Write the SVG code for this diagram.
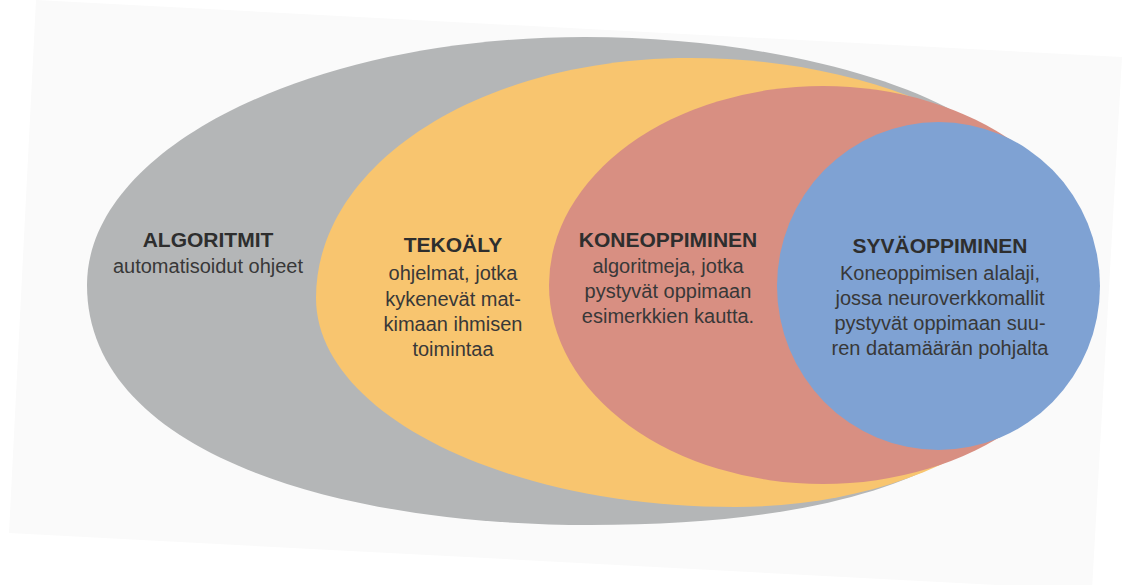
<svg xmlns="http://www.w3.org/2000/svg" width="1123" height="585" viewBox="0 0 1123 585">
<style>
.t{font-family:"Liberation Sans",Arial,sans-serif;font-weight:bold;font-size:21px;fill:#2e2e2e;text-anchor:middle}
.b{font-family:"Liberation Sans",Arial,sans-serif;font-size:20px;fill:#383838;text-anchor:middle}
</style>
<rect width="1123" height="585" fill="#ffffff"/>
<polygon points="36,0 1122,57 1092,590 9,533" fill="#fafafa"/>
<g id="algoritmit">
<path d="M87,285 C87,148 310,37 585,37 C740,37 880,70 955,112 L1000,200 L1000,400 L955,455 C880,500 760,525 590,525 C330,525 87,450 87,285 Z" fill="#b4b6b7"/>
<text class="t" x="208" y="247">ALGORITMIT</text>
<text class="b" x="208" y="273">automatisoidut ohjeet</text>
</g>
<g id="tekoaly">
<path d="M316,298 C316,163 481,58 690,58 C908,58 1085,160 1085,285 C1085,408 928,507 735,507 C504,507 316,413 316,298 Z" fill="#f8c56f"/>
<text class="t" x="453" y="252">TEKOÄLY</text>
<text class="b" x="453" y="280">ohjelmat, jotka</text>
<text class="b" x="453" y="306">kykenevät mat-</text>
<text class="b" x="453" y="331">kimaan ihmisen</text>
<text class="b" x="453" y="356">toimintaa</text>
</g>
<g id="koneoppiminen">
<ellipse cx="823" cy="285" rx="274" ry="199" fill="#d88f82"/>
<text class="t" x="668" y="247">KONEOPPIMINEN</text>
<text class="b" x="668" y="273">algoritmeja, jotka</text>
<text class="b" x="668" y="298">pystyvät oppimaan</text>
<text class="b" x="668" y="323">esimerkkien kautta.</text>
</g>
<g id="syvaoppiminen">
<ellipse cx="938.5" cy="286" rx="161.5" ry="164" fill="#7fa2d3"/>
<text class="t" x="940" y="253">SYVÄOPPIMINEN</text>
<text class="b" x="940" y="280">Koneoppimisen alalaji,</text>
<text class="b" x="940" y="305">jossa neuroverkkomallit</text>
<text class="b" x="940" y="330">pystyvät oppimaan suu-</text>
<text class="b" x="940" y="355">ren datamäärän pohjalta</text>
</g>
</svg>
